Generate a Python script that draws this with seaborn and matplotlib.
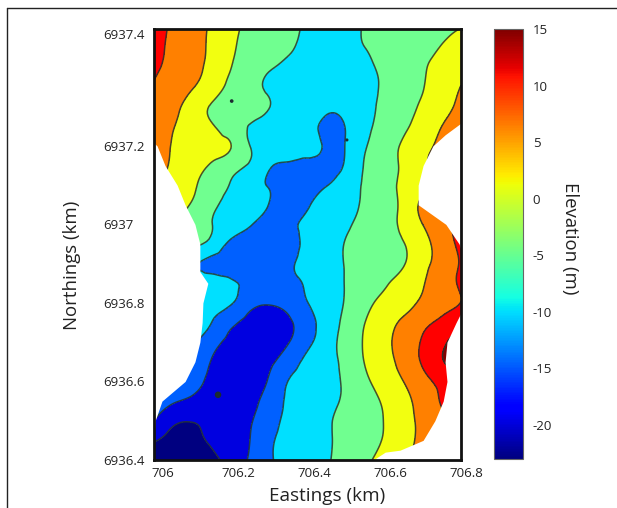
import matplotlib
matplotlib.use("Agg")
import matplotlib.pyplot as plt
import matplotlib.transforms as mtrans
import matplotlib.tri as mtri
from matplotlib.cm import ScalarMappable
from matplotlib.colors import Normalize
from matplotlib.lines import Line2D
import numpy as np
import seaborn as sns

# elevation (m), rows run north to south, columns west to east
eastings = np.linspace(705.99, 706.8, 17)
northings = np.linspace(6937.5, 6936.4, 23)
elevation = [
    [11.6, 9.3, 7.0, 4.3, 1.2, -1.0, -2.5, -4.0, -5.8, -7.4, -6.2, -4.8, -3.8, -2.8, -1.9, -1.0, 0.0],
    [11.2, 9.0, 6.7, 4.1, 0.7, -1.3, -3.0, -4.6, -6.2, -7.8, -6.3, -5.0, -3.7, -2.5, -1.1, 0.2, 2.0],
    [10.7, 8.6, 6.4, 3.7, 0.1, -2.2, -4.5, -6.0, -7.5, -8.5, -7.5, -5.9, -4.1, -2.3, -0.4, 1.4, 3.8],
    [9.5, 7.4, 5.3, 2.0, -1.0, -3.4, -5.6, -7.2, -8.5, -9.0, -8.0, -6.3, -4.4, -2.3, -0.2, 2.5, 5.1],
    [8.0, 6.3, 2.9, -0.3, -1.9, -3.4, -4.9, -6.5, -8.0, -9.3, -8.5, -6.3, -4.0, -1.8, 0.7, 3.4, 6.0],
    [7.6, 5.2, 2.8, 0.4, -2.4, -5.2, -6.4, -7.7, -9.0, -10.8, -9.8, -6.2, -3.4, -0.9, 2.0, 5.0, 7.0],
    [6.3, 4.8, 3.2, 1.6, 0.1, -5.0, -6.3, -7.5, -8.8, -10.5, -9.8, -5.4, -2.3, 0.7, 3.6, 6.0, 8.0],
    [6.0, 4.5, 2.0, -0.5, -3.0, -5.5, -9.3, -10.5, -11.0, -10.8, -9.5, -4.6, -1.9, 0.9, 4.2, 6.5, 8.5],
    [6.0, 3.8, 0.8, -2.4, -5.3, -8.5, -10.2, -10.6, -11.2, -10.1, -7.8, -4.3, -1.6, 1.1, 4.0, 6.5, 8.5],
    [5.0, 2.5, -0.5, -4.0, -6.3, -8.2, -10.1, -11.5, -10.4, -8.3, -6.4, -4.3, -1.8, 1.2, 6.0, 8.5, 11.0],
    [3.5, 0.8, -2.0, -4.9, -7.3, -9.6, -11.7, -10.9, -9.2, -7.4, -5.6, -3.7, -1.6, 1.0, 5.0, 8.5, 12.0],
    [2.0, -0.5, -3.5, -6.6, -10.9, -12.5, -13.2, -11.5, -9.2, -7.0, -4.8, -3.2, -1.7, -0.2, 3.3, 7.2, 11.5],
    [-1.0, -5.0, -9.0, -11.0, -11.5, -12.0, -12.5, -10.8, -8.7, -6.7, -4.8, -3.3, -1.8, -0.3, 3.5, 7.0, 10.5],
    [-6.0, -7.0, -8.0, -8.5, -9.4, -10.8, -12.2, -11.3, -9.5, -7.1, -4.8, -2.7, -0.6, 1.9, 4.7, 7.9, 11.0],
    [-6.0, -7.0, -8.0, -8.8, -9.6, -13.5, -14.7, -13.5, -10.1, -7.4, -4.6, -1.3, 1.3, 3.4, 5.7, 7.9, 10.1],
    [-5.0, -6.0, -8.0, -10.0, -13.8, -16.3, -17.0, -15.7, -12.0, -7.6, -3.8, 0.0, 3.0, 5.8, 8.6, 11.3, 14.0],
    [-7.0, -8.0, -9.5, -13.0, -16.3, -17.6, -17.5, -15.2, -11.2, -7.0, -3.3, 0.5, 3.7, 7.0, 10.5, 14.0, 17.0],
    [-9.0, -10.0, -12.0, -15.2, -17.5, -18.0, -16.0, -12.5, -8.8, -6.5, -3.7, 0.2, 3.2, 6.6, 10.6, 14.6, 17.0],
    [-11.0, -12.0, -13.5, -16.0, -18.0, -17.5, -14.5, -9.9, -8.2, -6.4, -4.3, -0.9, 2.1, 5.0, 8.3, 11.5, 14.0],
    [-13.0, -14.5, -16.0, -17.5, -18.5, -16.5, -13.0, -9.3, -7.7, -6.1, -4.3, -1.9, 0.6, 3.6, 7.0, 10.4, 13.0],
    [-15.0, -19.0, -19.8, -18.5, -17.0, -15.4, -12.0, -9.0, -7.6, -5.6, -3.7, -1.8, 0.1, 3.1, 6.2, 9.0, 12.0],
    [-19.7, -21.5, -21.0, -19.4, -17.2, -15.0, -10.9, -8.7, -7.2, -5.5, -3.7, -1.7, 0.3, 3.2, 6.2, 9.0, 12.0],
    [-22.0, -22.5, -22.0, -21.0, -18.3, -14.4, -10.6, -8.7, -7.0, -5.4, -3.3, -0.9, 1.5, 4.1, 7.0, 10.0, 13.0],
]
levels = [-40, -20, -15, -10, -5, 0, 5, 10, 15, 40]
band_colors = ["#000080", "#0000e0", "#0060ff", "#00e0ff", "#70ff90", "#f2ff10", "#ff8000", "#ff0000", "#800000"]

# limits of the surveyed area, everything outside is blank
west_n = [6937.5, 6937.207, 6937.2, 6937.15, 6937.1, 6937.05, 6937.0, 6936.95, 6936.9, 6936.88,
          6936.85, 6936.8, 6936.75, 6936.7, 6936.65, 6936.6, 6936.55, 6936.5, 6936.45, 6936.4]
west_e = [705.99, 705.99, 705.998, 706.019, 706.051, 706.072, 706.098, 706.111, 706.111, 706.111,
          706.132, 706.119, 706.117, 706.111, 706.098, 706.072, 706.011, 705.993, 705.99, 705.99]
east_n = [6937.5, 6937.258, 6937.228, 6937.2, 6937.15, 6937.1, 6937.05, 6937.0, 6936.95, 6936.935,
          6936.775, 6936.75, 6936.7, 6936.65, 6936.6, 6936.55, 6936.5, 6936.45, 6936.425, 6936.42, 6936.4]
east_e = [706.8, 706.8, 706.758, 706.726, 706.70, 706.687, 706.687, 706.76, 706.795, 706.8,
          706.8, 706.787, 706.763, 706.758, 706.763, 706.753, 706.731, 706.70, 706.639, 706.6, 706.568]

# small closed contours too small for the grid
spot_e = [706.195, 706.499, 706.159]
spot_n = [6937.314, 6937.215, 6936.566]

x_ticks = [706, 706.2, 706.4, 706.6, 706.8]
x_labels = ["706", "706.2", "706.4", "706.6", "706.8"]
y_ticks = [6936.4, 6936.6, 6936.8, 6937, 6937.2, 6937.485]
y_labels = ["6936.4", "6936.6", "6936.8", "6937", "6937.2", "6937.4"]
cbar_ticks = [-20, -15, -10, -5, 0, 5, 10, 15]

sns.set_theme(style="white")
plt.rcParams["font.family"] = ["Open Sans", "DejaVu Sans"]
plt.rcParams["axes.unicode_minus"] = False

cmap = plt.get_cmap("jet")
norm = Normalize(vmin=-23, vmax=15)

fig = plt.figure(figsize=(6.17, 5.08), dpi=100)
W, H = 617, 508
ax = fig.add_axes([154 / W, (H - 460) / H, 307 / W, 431 / H])

# refine the grid so the contour lines come out smooth
xx, yy = np.meshgrid(eastings, northings)
tri = mtri.Triangulation(xx.ravel(), (yy.ravel() - 6936.4))
fine_tri, fine_z = mtri.UniformTriRefiner(tri).refine_field(np.array(elevation).ravel(), subdiv=3)
ax.tricontourf(fine_tri, fine_z, levels=levels, colors=band_colors)
ax.tricontour(fine_tri, fine_z, levels=levels[1:-1], colors="#27352c", linewidths=1.1, alpha=0.85,
              linestyles="solid")
ax.scatter(spot_e, np.array(spot_n) - 6936.4, s=[7, 5, 22], color="#1c2b30", linewidths=0, zorder=2)

ax.fill_betweenx(np.array(west_n) - 6936.4, 705.99, west_e, color="white", linewidth=0, zorder=3)
ax.fill_betweenx(np.array(east_n) - 6936.4, east_e, 706.8, color="white", linewidth=0, zorder=3)

ax.set_xlim(705.99, 706.8)
ax.set_ylim(0, 1.0975)
for s in ax.spines.values():
    s.set_visible(True)
    s.set_linewidth(2)
    s.set_color("#111111")
    s.set_zorder(5)

ax.set_xticks(x_ticks, x_labels)
ax.set_yticks(np.array(y_ticks) - 6936.4, y_labels)
ax.set_yticks([1.0], minor=True)
ax.tick_params(axis="both", which="both", direction="in", length=3, width=0.8, color="#555555",
               top=True, right=True, left=True, bottom=True, labelsize=9.5, labelcolor="#222222")
ax.tick_params(axis="x", pad=5)
ax.tick_params(axis="y", pad=9)
shift = mtrans.ScaledTranslation(5 / 100, 0, fig.dpi_scale_trans)
for lab in ax.get_xticklabels():
    lab.set_transform(lab.get_transform() + shift)
for lab in ax.get_yticklabels():
    lab.set_ha("left")
    lab.set_transform(lab.get_transform() + mtrans.ScaledTranslation(-38 / 100, 0, fig.dpi_scale_trans))

fig.text(327 / W, 1 - 496 / H, "Eastings (km)", fontsize=13.6, ha="center", va="center", color="#222222")
fig.text(72 / W, 1 - 265 / H, "Northings (km)", fontsize=13.4, rotation=90, ha="center", va="center", color="#222222")

cax = fig.add_axes([494 / W, (H - 459) / H, 29 / W, 430 / H])
cb = fig.colorbar(ScalarMappable(norm=norm, cmap=cmap), cax=cax)
cb.set_ticks(cbar_ticks)
cb.ax.tick_params(direction="in", length=2, width=0.6, color="#555555", labelsize=9.5, pad=7, labelcolor="#222222")
cb.outline.set_edgecolor("#666666")
cb.outline.set_linewidth(0.8)
fig.text(570 / W, 1 - 238 / H, "Elevation (m)", fontsize=13.4, rotation=270, ha="center", va="center", color="#222222")

# frame of the source page
fig.add_artist(Line2D([7 / W, 7 / W], [0, 1 - 8 / H], color="#222222", lw=1))
fig.add_artist(Line2D([7 / W, 1], [1 - 8 / H, 1 - 8 / H], color="#222222", lw=1))

fig.savefig("out.png", dpi=100)
